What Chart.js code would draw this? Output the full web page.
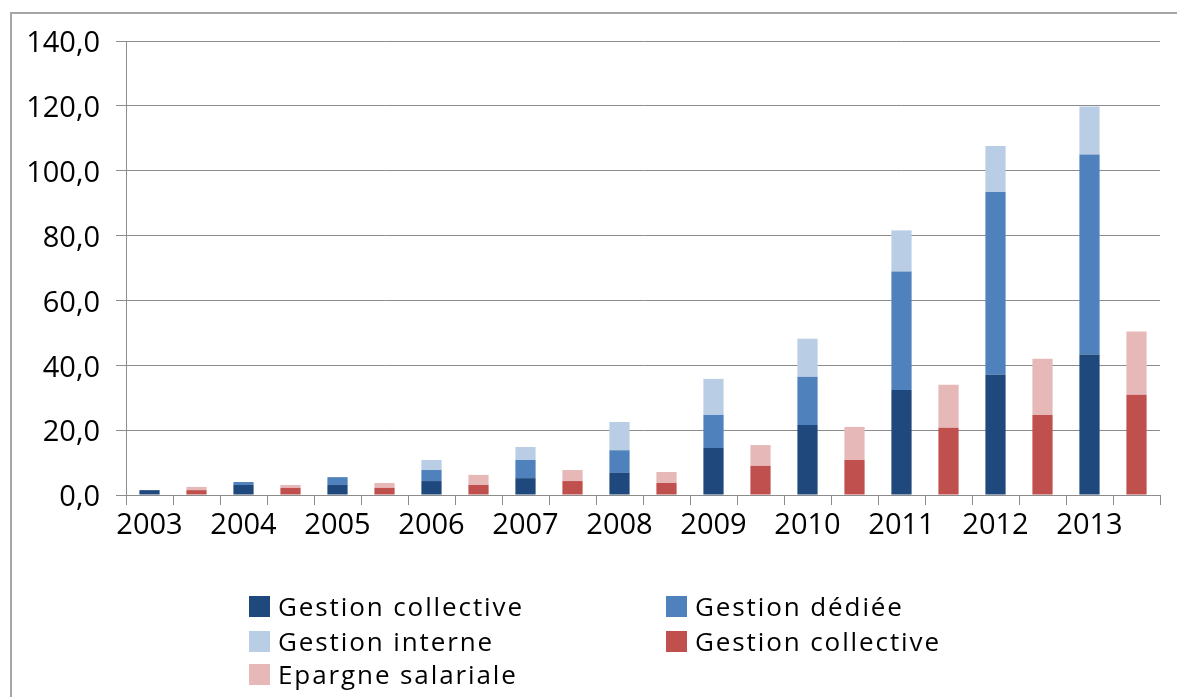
<!DOCTYPE html>
<html>
<head>
<meta charset="utf-8">
<script src="https://cdn.jsdelivr.net/npm/chart.js@4"></script>
<style>
  html, body { margin: 0; padding: 0; background: #fff; }
  #wrap { position: relative; width: 1177px; height: 697px; overflow: hidden; }
  #frame { position: absolute; left: 10px; top: 12px; width: 1300px; height: 800px;
           border-left: 2px solid #a6a6a6; border-top: 2px solid #a6a6a6; }
  canvas { position: absolute; left: 0; top: 0; }
  .lg { position: absolute; display: flex; align-items: center; height: 22px;
        font-family: "Open Sans", sans-serif; font-size: 26px; letter-spacing: 1.9px; color: #000; }
  .lg span.box { display: inline-block; width: 21px; height: 21px; margin-right: 8px; }
</style>
</head>
<body>
<div id="wrap">
  <div id="frame"></div>
  <canvas id="chart" width="1177" height="697"></canvas>
  <div id="legend"></div>
</div>
<script>
const years = ['2003', '2004', '2005', '2006', '2007', '2008', '2009', '2010', '2011', '2012', '2013'];

// blue stack
const gestionCollective = [1.5, 3.1, 3.1, 4.3, 5.2, 6.8, 14.5, 21.6, 32.4, 37.1, 43.3];
const gestionDediee = [0, 0.9, 2.4, 3.4, 5.6, 7.0, 10.2, 14.9, 36.5, 56.3, 61.7];
const gestionInterne = [0, 0, 0, 3.1, 4.0, 8.7, 11.1, 11.7, 12.7, 14.2, 14.8];
// red stack
const gestionCollectiveEs = [1.5, 2.2, 2.2, 3.1, 4.3, 3.7, 9.0, 10.8, 20.7, 24.7, 30.9];
const epargneSalariale = [1.0, 0.9, 1.5, 3.1, 3.4, 3.4, 6.4, 10.2, 13.3, 17.3, 19.5];

const yTicks = [0, 20, 40, 60, 80, 100, 120, 140];

// each year gets two slots: blue bar then red bar (only the first is labelled)
const labels = [];
years.forEach(y => { labels.push(y); labels.push(''); });

function slot(values, side) {
  const out = [];
  values.forEach(v => {
    out.push(side === 0 ? v : null);
    out.push(side === 1 ? v : null);
  });
  return out;
}

const series = [
  { label: 'Gestion collective', data: slot(gestionCollective, 0), color: '#1f497d' },
  { label: 'Gestion dédiée', data: slot(gestionDediee, 0), color: '#4f81bd' },
  { label: 'Gestion interne', data: slot(gestionInterne, 0), color: '#b9cde5' },
  { label: 'Gestion collective', data: slot(gestionCollectiveEs, 1), color: '#c0504d' },
  { label: 'Epargne salariale', data: slot(epargneSalariale, 1), color: '#e6b9b8' },
];

const tickFont = { family: 'Open Sans', size: 29 };

new Chart(document.getElementById('chart'), {
  type: 'bar',
  data: {
    labels,
    datasets: series.map(s => ({
      label: s.label,
      data: s.data,
      backgroundColor: s.color,
      borderWidth: 0,
      stack: 'all',
      categoryPercentage: 1,
      barPercentage: 0.43,
    })),
  },
  options: {
    responsive: false,
    animation: false,
    layout: { padding: { left: 0, right: 17, top: 41, bottom: 137 } },
    plugins: { legend: { display: false }, tooltip: { enabled: false } },
    scales: {
      x: {
        stacked: true,
        grid: { offset: true, drawOnChartArea: false, drawTicks: true, tickLength: 10, color: '#8c8c8c' },
        border: { color: '#8c8c8c' },
        ticks: { color: '#000', font: tickFont, autoSkip: false, maxRotation: 0, padding: 3 },
        afterFit: scale => { scale.height = 65; },
      },
      y: {
        stacked: true,
        min: 0,
        max: 140,
        afterBuildTicks: scale => { scale.ticks = yTicks.map(v => ({ value: v })); },
        grid: { color: '#8c8c8c', tickLength: 10 },
        border: { color: '#8c8c8c' },
        ticks: {
          color: '#000',
          font: tickFont,
          padding: 16,
          labelOffset: 3,
          callback: v => v.toFixed(1).replace('.', ','),
        },
        afterFit: scale => { scale.width = 126; },
      },
    },
  },
});

// legend laid out in two columns like the original
const legendPos = [
  [249, 595], [666, 595],
  [249, 630], [666, 630],
  [249, 663],
];
const legendEl = document.getElementById('legend');
series.forEach((s, i) => {
  const item = document.createElement('div');
  item.className = 'lg';
  item.style.left = legendPos[i][0] + 'px';
  item.style.top = legendPos[i][1] + 'px';
  item.innerHTML = `<span class="box" style="background:${s.color}"></span>${s.label}`;
  legendEl.appendChild(item);
});
</script>
</body>
</html>
